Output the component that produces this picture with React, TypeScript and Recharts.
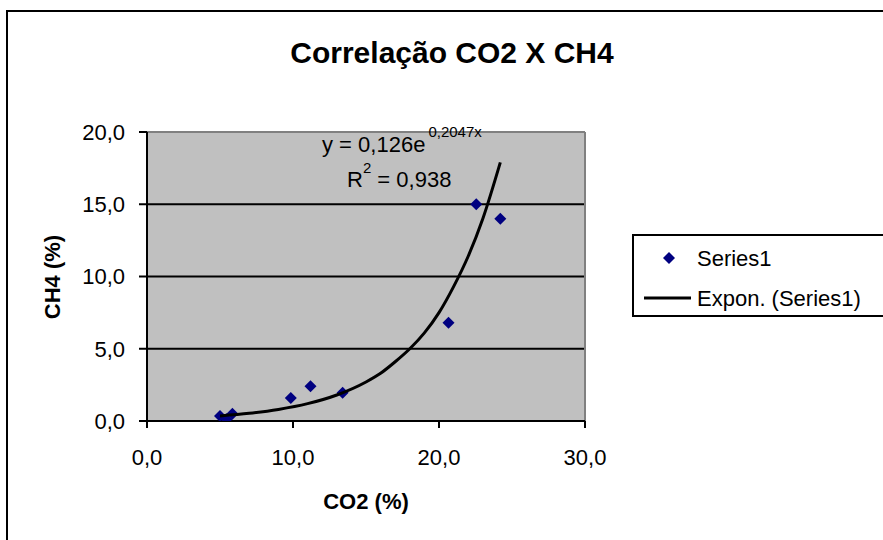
import React from 'react';
import { ScatterChart, Scatter, XAxis, YAxis, CartesianGrid, ReferenceLine } from 'recharts';

// Series1 measurements
const co2 = [5.0, 5.45, 5.85, 9.85, 11.2, 13.4, 20.65, 22.55, 24.2];
const ch4 = [0.35, 0.12, 0.5, 1.6, 2.4, 1.95, 6.8, 15.0, 14.0];

// Exponential trend line
const trendX = [5.0, 7, 9, 11, 13, 15, 16, 17, 18, 19, 20, 21, 22, 23, 24.2];
const trendY = [0.35, 0.53, 0.8, 1.2, 1.8, 2.7, 3.3, 4.1, 5.0, 6.1, 7.5, 9.3, 11.4, 14.0, 17.9];

const xTicks = [0, 10, 20, 30];
const yTicks = [0, 5, 10, 15, 20];

const title = 'Correlação CO2 X CH4';
const xTitle = 'CO2 (%)';
const yTitle = 'CH4 (%)';
const seriesName = 'Series1';
const trendName = 'Expon. (Series1)';
const eqMain = 'y = 0,126e';
const eqExp = '0,2047x';
const r2Value = ' = 0,938';

const FONT = '"Liberation Sans", Arial, sans-serif';
const NAVY = '#000080';

const points = co2.map((x, i) => ({ x, y: ch4[i] }));
const trend = trendX.map((x, i) => ({ x, y: trendY[i] }));

const fmt = (v: number) => v.toFixed(1).replace('.', ',');

const Diamond = (props: any) => {
  const { cx, cy } = props;
  if (cx == null || cy == null) return <g />;
  const r = 6;
  return (
    <polygon
      points={`${cx},${cy - r} ${cx + r},${cy} ${cx},${cy + r} ${cx - r},${cy}`}
      fill={NAVY}
    />
  );
};

const NoShape = () => <g />;

export default function App() {
  return (
    <div
      style={{
        position: 'absolute',
        left: 0,
        top: 0,
        width: 883,
        height: 540,
        overflow: 'hidden',
        background: '#fff',
        fontFamily: FONT,
      }}
    >
      <div
        style={{
          position: 'absolute',
          left: 6,
          top: 10,
          width: 900,
          height: 560,
          border: '2px solid #000',
          boxSizing: 'border-box',
        }}
      />
      <div style={{ position: 'absolute', left: 0, top: 0 }}>
        <ScatterChart width={883} height={540} margin={{ top: 132, right: 298, bottom: 0, left: 0 }}>
          <CartesianGrid vertical={false} stroke="#000" strokeWidth={1.8} fill="#c0c0c0" fillOpacity={1} />
          <ReferenceLine y={20} stroke="#808080" strokeWidth={2} />
          <ReferenceLine x={30} stroke="#808080" strokeWidth={2} />
          <XAxis
            dataKey="x"
            type="number"
            domain={[0, 30]}
            ticks={xTicks}
            allowDataOverflow
            height={119}
            tickFormatter={fmt}
            tickSize={7}
            tickMargin={21}
            axisLine={{ stroke: '#000', strokeWidth: 2 }}
            tickLine={{ stroke: '#000', strokeWidth: 2 }}
            tick={{ fill: '#000', fontSize: 22, fontFamily: FONT }}
          />
          <YAxis
            dataKey="y"
            type="number"
            domain={[0, 20]}
            ticks={yTicks}
            allowDataOverflow
            width={147}
            tickFormatter={fmt}
            tickSize={8}
            tickMargin={14}
            axisLine={{ stroke: '#000', strokeWidth: 2 }}
            tickLine={{ stroke: '#000', strokeWidth: 2 }}
            tick={{ fill: '#000', fontSize: 22, fontFamily: FONT }}
          />
          <Scatter name={seriesName} data={points} shape={<Diamond />} isAnimationActive={false} />
          <Scatter
            name={trendName}
            data={trend}
            line={{ stroke: '#000', strokeWidth: 3 }}
            lineJointType="monotoneX"
            shape={<NoShape />}
            isAnimationActive={false}
          />
        </ScatterChart>
      </div>
      <svg
        width={883}
        height={540}
        style={{ position: 'absolute', left: 0, top: 0, pointerEvents: 'none' }}
        fontFamily={FONT}
      >
        <text x={452} y={63} textAnchor="middle" fontSize={30} fontWeight="bold" fill="#000">
          {title}
        </text>
        <text x={322} y={152} fontSize={22} fill="#000">
          {eqMain}
          <tspan dx={3} dy={-15} fontSize={15}>
            {eqExp}
          </tspan>
        </text>
        <text x={347} y={187} fontSize={22} fill="#000">
          R
          <tspan dy={-14} fontSize={15}>
            2
          </tspan>
          <tspan dy={14} fontSize={22}>
            {r2Value}
          </tspan>
        </text>
        <text x={366} y={509} textAnchor="middle" fontSize={22} fontWeight="bold" fill="#000">
          {xTitle}
        </text>
        <text
          x={60}
          y={277}
          textAnchor="middle"
          fontSize={22}
          fontWeight="bold"
          fill="#000"
          transform="rotate(-90 60 277)"
        >
          {yTitle}
        </text>
      </svg>
      <div
        style={{
          position: 'absolute',
          left: 632,
          top: 234,
          width: 270,
          height: 83,
          border: '2px solid #000',
          boxSizing: 'border-box',
          background: '#fff',
        }}
      >
        <svg width={270} height={83} style={{ position: 'absolute', left: -2, top: -2 }} fontFamily={FONT}>
          <polygon points="37,18 43,24 37,30 31,24" fill={NAVY} />
          <text x={65} y={32} fontSize={22} fill="#000">
            {seriesName}
          </text>
          <line x1={12} x2={59} y1={64} y2={64} stroke="#000" strokeWidth={3} />
          <text x={65} y={72} fontSize={22} fill="#000">
            {trendName}
          </text>
        </svg>
      </div>
    </div>
  );
}
